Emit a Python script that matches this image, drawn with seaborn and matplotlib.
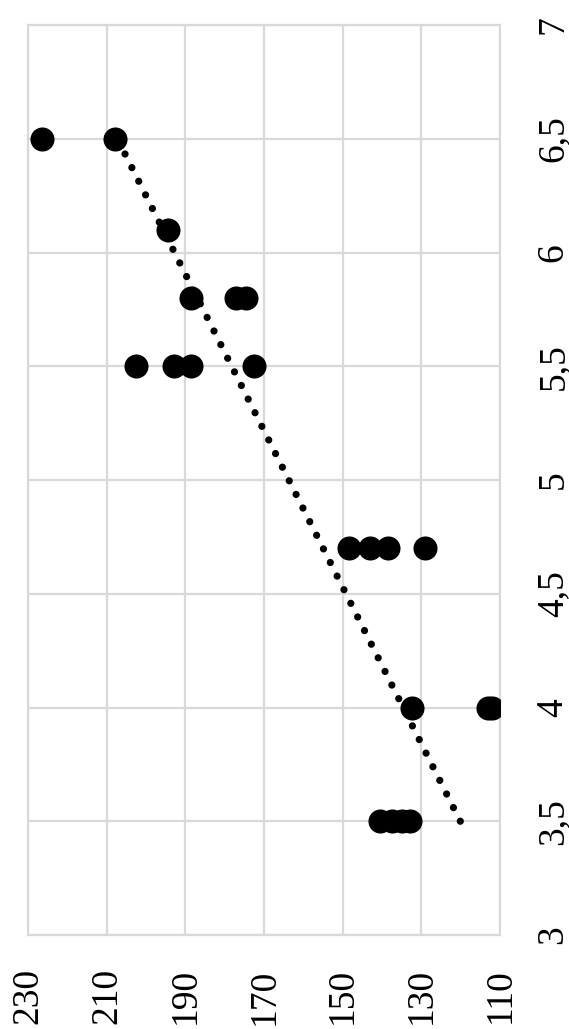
import numpy as np
import pandas as pd
import matplotlib
matplotlib.use("Agg")
import matplotlib.pyplot as plt
import seaborn as sns

# data (x value, y value) from the reference
x_vals = [6.5, 6.5, 6.1, 5.8, 5.8, 5.8, 5.5, 5.5, 5.5, 5.5,
          4.7, 4.7, 4.7, 4.7, 4.0, 4.0, 4.0, 3.5, 3.5, 3.5, 3.5]
y_vals = [226.5, 208, 194.5, 188.5, 177, 174.5, 202.5, 193, 188.5, 172.5,
          148.5, 143, 138.5, 129, 132.5, 113, 112, 140.5, 137.5, 135, 133]
y_ticks = [230, 210, 190, 170, 150, 130, 110]
x_ticks = [3, 3.5, 4, 4.5, 5, 5.5, 6, 6.5, 7]
x_tick_labels = ["3", "3,5", "4", "4,5", "5", "5,5", "6", "6,5", "7"]

df = pd.DataFrame({"x": x_vals, "y": y_vals})

sns.set_style("white")
plt.rcParams["font.family"] = ["Liberation Serif", "DejaVu Serif"]

fig = plt.figure(figsize=(5.69, 10.29), dpi=100)
ax = fig.add_axes([28/569, 1-935/1029, (500-28)/569, (935-25)/1029])

# chart is rotated: y values run horizontally, x values vertically
sns.scatterplot(data=df, x="y", y="x", ax=ax, s=300, color="black",
                edgecolor="black", linewidth=0, zorder=3)

coef = np.polyfit(df["x"], df["y"], 1)
xs = np.array([min(x_vals), max(x_vals)])
ln, = ax.plot(np.polyval(coef, xs), xs, color="black", lw=5.2,
              linestyle=(0, (0.01, 2.1)), dash_capstyle="round", zorder=4)

ax.set_xlim(230, 110)
ax.set_ylim(3, 7)
ax.set_xticks(y_ticks)
ax.set_xticklabels([str(v) for v in y_ticks], rotation=90, fontsize=27)
ax.set_yticks(x_ticks)
ax.set_yticklabels(x_tick_labels, rotation=90, fontsize=27, va="center")
ax.yaxis.tick_right()
ax.tick_params(axis="x", length=0, pad=24, labelcolor="black")
ax.tick_params(axis="y", length=0, pad=26, labelcolor="black")
ax.set_xlabel("")
ax.set_ylabel("")
ax.grid(True, color="#d9d9d9", linewidth=1.6, zorder=0)
ax.set_axisbelow(True)
for sp in ax.spines.values():
    sp.set_color("#d9d9d9")
    sp.set_linewidth(1.6)

fig.savefig("out.png", dpi=100, facecolor="white")
